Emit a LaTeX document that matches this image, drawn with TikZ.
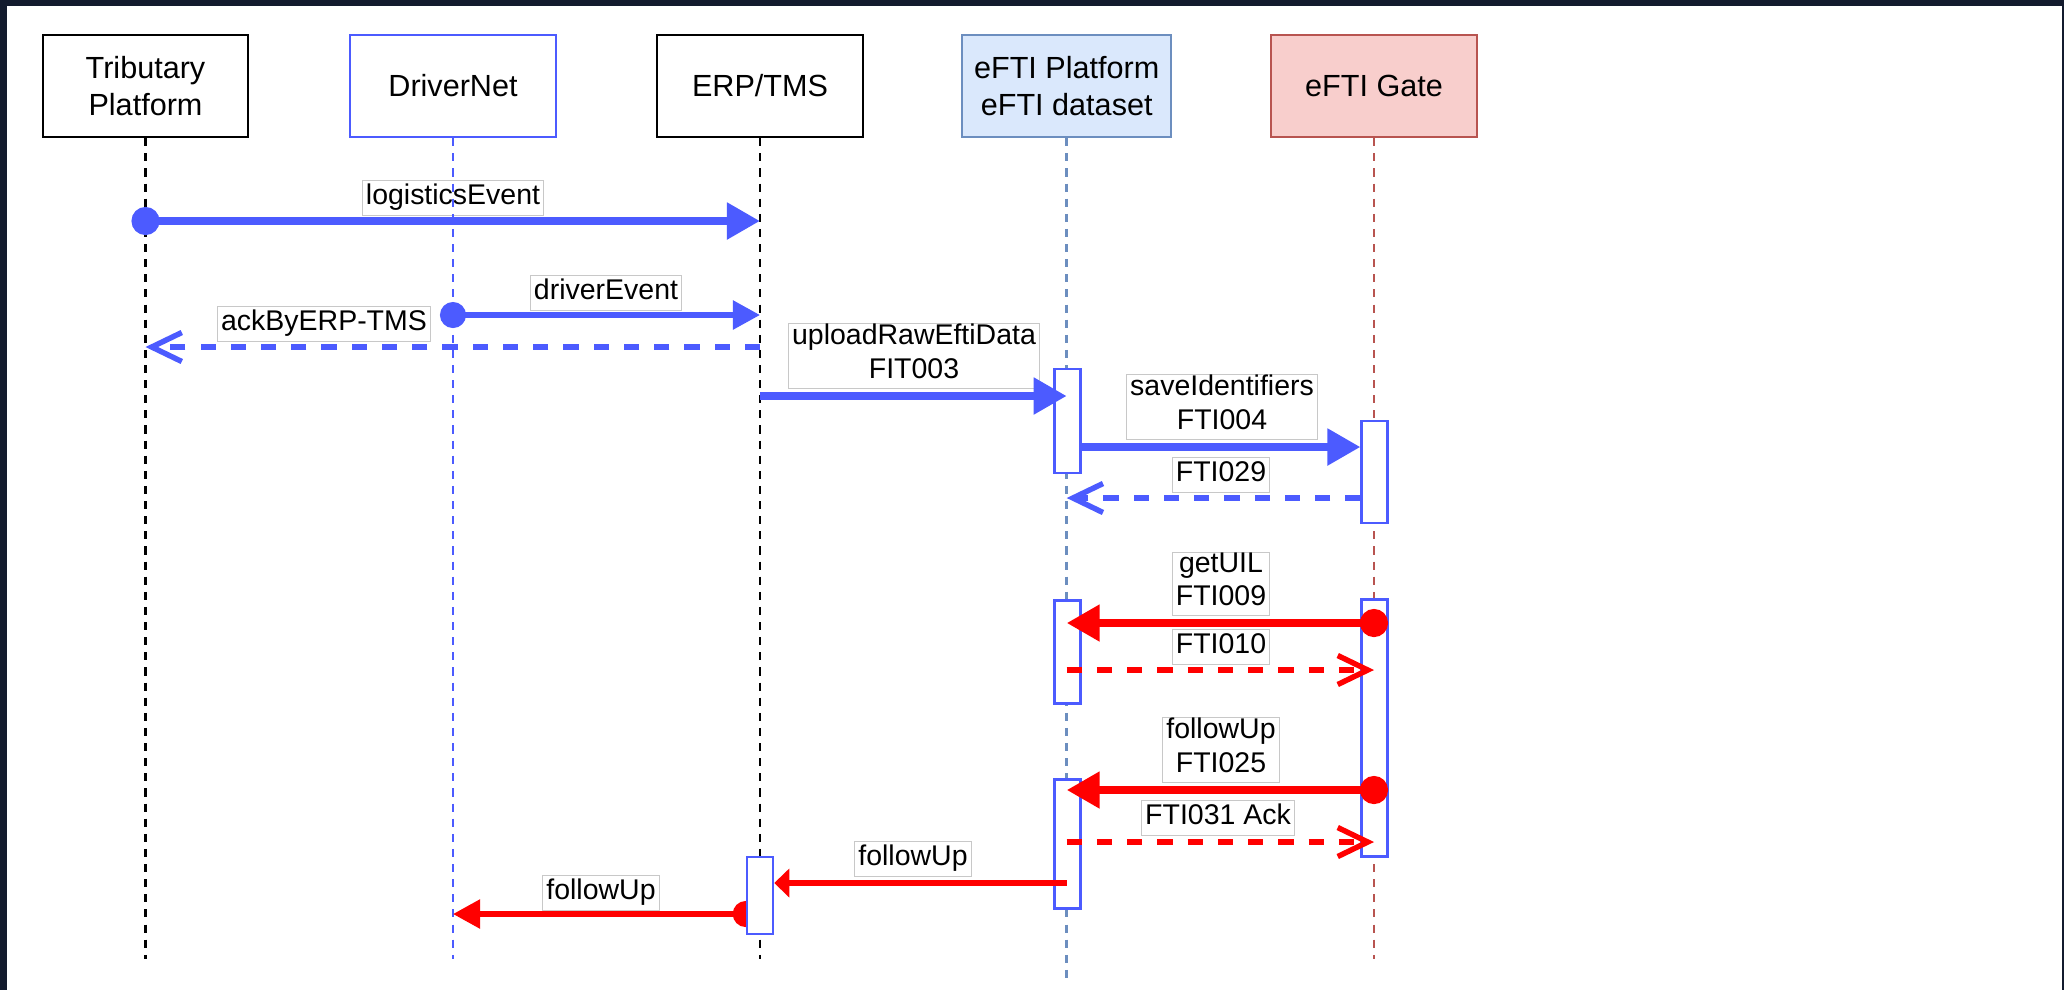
\documentclass[tikz,border=0pt]{standalone}
\usepackage{fontspec}
\setmainfont{Liberation Sans}
\usetikzlibrary{arrows.meta}
\definecolor{framebg}{HTML}{131B2E}
\definecolor{msgblue}{HTML}{4C5BFF}
\definecolor{platfill}{HTML}{DAE8FC}
\definecolor{platline}{HTML}{6C8EBF}
\definecolor{gatefill}{HTML}{F8CECC}
\definecolor{gateline}{HTML}{B85450}
\definecolor{lblline}{HTML}{C8C8C8}
\pgfdeclarelayer{fg}
\pgfsetlayers{main,fg}
\tikzset{
  head/.style={draw, line width=0.65pt, minimum width=2.054cm, minimum height=1.02cm,
    align=center, font=\fontsize{8.7}{10.4}\selectfont},
  headk/.style={head, draw=black, fill=white},
  headb/.style={head, draw=msgblue, fill=white},
  headp/.style={head, draw=platline, fill=platfill},
  headg/.style={head, draw=gateline, fill=gatefill},
  life/.style={line width=0.7pt, dash pattern=on 2.3pt off 2pt},
  act/.style={draw=msgblue, fill=white, line width=0.7pt, minimum width=0.26cm, inner sep=0pt},
  lbl/.style={draw=lblline, fill=white, line width=0.3pt, inner xsep=1pt, inner ysep=0.1pt,
    align=center, font=\fontsize{8.1}{9.5}\selectfont,
    execute at begin node=\strut, execute at end node=\strut},
  bigmsg/.style={line width=2.3pt, -{Triangle[length=0.33cm,width=0.35cm]}},
  bigdot/.style={line width=2.3pt, {Circle[length=0.28cm]}-{Triangle[length=0.33cm,width=0.35cm]},
    shorten <=-0.14cm},
  smalldot/.style={line width=1.55pt, {Circle[length=0.26cm]}-{Triangle[length=0.27cm,width=0.28cm]},
    shorten <=-0.13cm},
  shortmsg/.style={line width=1.6pt, -{Triangle[length=0.15cm,width=0.28cm]}},
  ret/.style={line width=1.55pt, dash pattern=on 4.3pt off 4.3pt,
    -{Straight Barb[length=0.3cm,width=0.29cm]}}
}
\begin{document}
\begin{tikzpicture}[x=0.01cm, y=-0.01cm]
\useasboundingbox (0,0) rectangle (2064,990);
\fill[framebg] (0,0) rectangle (2064,990);
\fill[white] (7,6) rectangle (2062,990);
% labels
\node[lbl] (l1) at (453,198) {logisticsEvent};
\node[lbl] (l2) at (606,293) {driverEvent};
\node[lbl] (l3) at (324,324) {ackByERP-TMS};
\node[lbl] (l4) at (914,356) {uploadRawEftiData\\FIT003};
\node[lbl] (l5) at (1222,407) {saveIdentifiers\\FTI004};
\node[lbl] (l6) at (1221,475) {FTI029};
\node[lbl] (l7) at (1221,584) {getUIL\\FTI009};
\node[lbl] (l8) at (1221,647) {FTI010};
\node[lbl] (l9) at (1221,750) {followUp\\FTI025};
\node[lbl] (l10) at (1218,818) {FTI031 Ack};
\node[lbl] (l11) at (913,859) {followUp};
\node[lbl] (l12) at (601,893) {followUp};
% lifelines
\foreach \n/\x/\s/\t in {trib/145.5/headk/{Tributary\\Platform}, drv/453/headb/DriverNet,
    erp/760/headk/{ERP/TMS}, plat/1066.7/headp/{eFTI Platform\\eFTI dataset}, gate/1374/headg/{eFTI Gate}}
    \node[\s] (\n) at (\x,86) {\t};
\foreach \n/\c/\l in {trib/black/821, drv/msgblue/821, erp/black/821, plat/platline/840, gate/gateline/821}
    \draw[life, \c] (\n.south) -- ++(0,\l);
% activations
\foreach \n/\l/\y/\h in {pa1/plat/421/1.04, ga1/gate/472/1.02, pa2/plat/652/1.03, ga2/gate/728/2.57, pa3/plat/844/1.29}
    \node[act, minimum height=\h cm] (\n) at ([xshift=0.007cm]\l |- 0,\y) {};
\begin{pgfonlayer}{fg}
\node[act, minimum height=0.77cm] (ea1) at (erp |- 0,895.5) {};
\end{pgfonlayer}
% messages
\foreach \m/\y in {1/221, 2/315, 3/347, 4/396, 5/447, 6/498, 7/623, 8/670, 9/790, 10/842, 11/883, 12/914}
    \coordinate (m\m) at (0,\y);
\draw[bigdot, msgblue] (trib |- m1) -- (erp |- m1);
\draw[smalldot, msgblue] (drv |- m2) -- (erp |- m2);
\draw[ret, msgblue] (erp |- m3) -- (trib |- m3);
\draw[bigmsg, msgblue] (erp |- m4) -- (plat |- m4);
\draw[bigmsg, msgblue] (pa1.east |- m5) -- (ga1.west |- m5);
\draw[ret, msgblue] (ga1.west |- m6) -- (plat |- m6);
\draw[bigdot, red] (gate |- m7) -- (plat |- m7);
\draw[ret, red] (plat |- m8) -- (gate |- m8);
\draw[bigdot, red] (gate |- m9) -- (plat |- m9);
\draw[ret, red] (plat |- m10) -- (gate |- m10);
\draw[shortmsg, red] (plat |- m11) -- (ea1.east |- m11);
\draw[smalldot, red] (ea1.west |- m12) -- (drv |- m12);
\end{tikzpicture}
\end{document}
